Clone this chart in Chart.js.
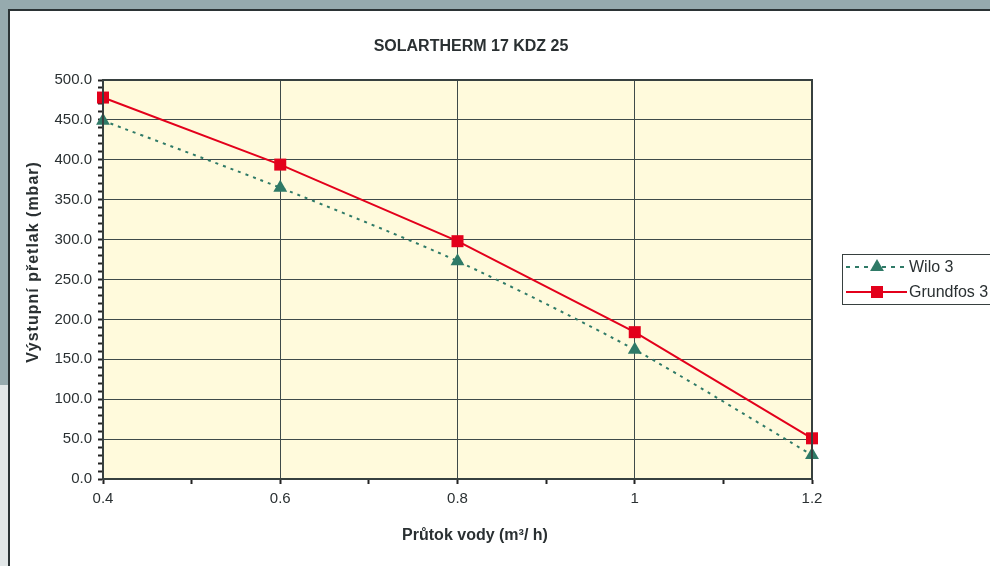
<!DOCTYPE html>
<html>
<head>
<meta charset="utf-8">
<script src="https://cdn.jsdelivr.net/npm/chart.js@4/dist/chart.umd.min.js"></script>
<style>
    html, body { margin: 0; padding: 0; }
    body { width: 990px; height: 566px; position: relative; overflow: hidden; background: #96aaae; font-family: "Liberation Sans", Arial, sans-serif; }
    #lower { position: absolute; left: 0; top: 385px; width: 10px; height: 181px; background: #e2e7e8; }
    #frame { position: absolute; left: 8px; top: 9px; right: 0; bottom: 0; background: #fff; border-left: 2px solid #2b3335; border-top: 2px solid #2b3335; }
    #wrap { position: absolute; left: 0; top: 0; width: 990px; height: 566px; }
</style>
</head>
<body>
<div id="lower"></div>
<div id="frame"></div>
<div id="wrap"><canvas id="chart" width="990" height="566"></canvas></div>
<script>
document.addEventListener("DOMContentLoaded", function () {
    // Flow (m3/h) and pressure (mbar)
    const flowValues = [0.4, 0.6, 0.8, 1.0, 1.2];
    const wiloValues = [449, 365, 273, 162, 30];
    const grundfosValues = [478, 394, 298, 184, 51];

    const chartTitle = "SOLARTHERM 17 KDZ 25";
    const xTitle = "Průtok vody (m³/ h)";
    const yTitle = "Výstupní přetlak (mbar)";
    const seriesNames = ["Wilo 3", "Grundfos 3"];
    const seriesColors = ["#2f7a67", "#e3001b"];

    const font = "\"Liberation Sans\", Arial, sans-serif";
    const textColor = "#2a3032";
    const gridColor = "#3f4a4a";

    // Cream plot background, frame, titles and the Excel-style legend
    const decorPlugin = {
        id: "decor",
        beforeDraw(chart) {
            const ctx = chart.ctx;
            const a = chart.chartArea;
            ctx.save();
            ctx.fillStyle = "#fffadc";
            ctx.fillRect(a.left, a.top, a.right - a.left, a.bottom - a.top);
            ctx.restore();
        },
        afterDraw(chart) {
            const ctx = chart.ctx;
            const a = chart.chartArea;
            ctx.save();
            ctx.strokeStyle = "#37403f";
            ctx.lineWidth = 2;
            ctx.strokeRect(a.left, a.top, a.right - a.left, a.bottom - a.top);

            ctx.fillStyle = textColor;
            ctx.textAlign = "center";
            ctx.textBaseline = "middle";
            ctx.font = "bold 16px " + font;
            ctx.fillText(chartTitle, 471, 47);
            ctx.fillText(xTitle, 475, 536);
            ctx.translate(34, 262);
            ctx.rotate(-Math.PI / 2);
            ctx.letterSpacing = "1px";
            ctx.fillText(yTitle, 0, 0);
            ctx.restore();

            // legend
            ctx.save();
            ctx.fillStyle = "#fff";
            ctx.fillRect(842, 254, 160, 50);
            ctx.strokeStyle = "#37403f";
            ctx.lineWidth = 1;
            ctx.strokeRect(842.5, 254.5, 160, 50);
            chart.data.datasets.forEach(function (ds, i) {
                const y = i === 0 ? 267 : 292;
                ctx.strokeStyle = ds.borderColor;
                ctx.lineWidth = 2;
                ctx.setLineDash(i === 0 ? [4, 5] : []);
                ctx.beginPath();
                ctx.moveTo(846, y);
                ctx.lineTo(907, y);
                ctx.stroke();
                ctx.setLineDash([]);
                Chart.helpers.drawPoint(ctx, {
                    pointStyle: ds.pointStyle,
                    radius: ds.pointRadius,
                    borderWidth: 0,
                    rotation: 0
                }, 877, y);
                ctx.fillStyle = ds.pointBackgroundColor;
                ctx.fill();
                ctx.fillStyle = textColor;
                ctx.font = "16px " + font;
                ctx.textAlign = "left";
                ctx.textBaseline = "middle";
                ctx.fillText(ds.label, 909, y + 1);
            });
            ctx.restore();
        }
    };

    const ctxChart = document.getElementById("chart").getContext("2d");
    new Chart(ctxChart, {
        type: "line",
        data: {
            datasets: [{
                label: seriesNames[0],
                data: flowValues.map((x, i) => ({ x: x, y: wiloValues[i] })),
                borderColor: seriesColors[0],
                backgroundColor: seriesColors[0],
                pointBackgroundColor: seriesColors[0],
                pointBorderWidth: 0,
                pointStyle: "triangle",
                pointRadius: 8,
                borderWidth: 2,
                borderDash: [3, 5],
                tension: 0.25,
                fill: false
            }, {
                label: seriesNames[1],
                data: flowValues.map((x, i) => ({ x: x, y: grundfosValues[i] })),
                borderColor: seriesColors[1],
                backgroundColor: seriesColors[1],
                pointBackgroundColor: seriesColors[1],
                pointBorderWidth: 0,
                pointStyle: "rect",
                pointRadius: 8.5,
                borderWidth: 2,
                tension: 0,
                fill: false
            }]
        },
        options: {
            responsive: false,
            animation: false,
            clip: false,
            layout: { padding: { left: 0, top: 80, right: 178, bottom: 0 } },
            plugins: {
                legend: { display: false },
                tooltip: { enabled: false }
            },
            scales: {
                x: {
                    type: "linear",
                    min: 0.4,
                    max: 1.2,
                    afterFit(scale) { scale.height = 87; },
                    ticks: {
                        stepSize: 0.1,
                        autoSkip: false,
                        maxRotation: 0,
                        padding: 6,
                        color: textColor,
                        font: { size: 15, family: font },
                        callback: function (value) {
                            const t = Math.round(value * 10);
                            return t % 2 === 0 ? String(t / 10) : "";
                        }
                    },
                    grid: {
                        color: function (c) {
                            const t = Math.round(c.tick.value * 10);
                            return t % 2 === 0 ? gridColor : "rgba(0,0,0,0)";
                        },
                        tickColor: "#222",
                        tickLength: 5,
                        lineWidth: 1,
                        tickWidth: 2
                    },
                    border: { color: "#222", width: 2 }
                },
                y: {
                    min: 0,
                    max: 500,
                    afterFit(scale) { scale.width = 103; },
                    ticks: {
                        stepSize: 10,
                        autoSkip: false,
                        padding: 6,
                        color: textColor,
                        font: { size: 15, family: font },
                        callback: function (value) {
                            return value % 50 === 0 ? value.toFixed(1) : "";
                        }
                    },
                    grid: {
                        color: function (c) {
                            return c.tick.value % 50 === 0 ? gridColor : "rgba(0,0,0,0)";
                        },
                        tickColor: "#222",
                        tickLength: 5,
                        lineWidth: 1,
                        tickWidth: 2
                    },
                    border: { color: "#222", width: 2 }
                }
            }
        },
        plugins: [decorPlugin]
    });
});
</script>
</body>
</html>
